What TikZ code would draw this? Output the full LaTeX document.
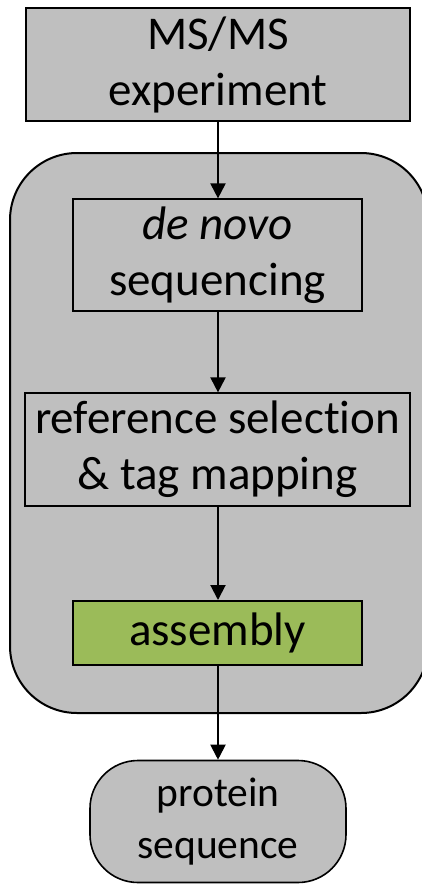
\documentclass[tikz,border=0pt]{standalone}
\usepackage{fontspec}
\setmainfont[Ligatures=NoCommon]{Carlito}
\usetikzlibrary{arrows.meta}
\definecolor{boxgray}{HTML}{BFBFBF}
\definecolor{asmgreen}{HTML}{9BBB59}
\begin{document}
\begin{tikzpicture}[x=1pt,y=-1pt,
  big/.style={font=\fontsize{47}{56}\selectfont, align=center, inner sep=0pt},
  stepbox/.style={big, draw, rectangle, line width=1.2pt},
  flow/.style={line width=2pt, -{Triangle[length=15pt,width=15pt]}}
]
\useasboundingbox (0,0) rectangle (421,884);
\node[draw, fill=boxgray, line width=2pt, rounded corners=67pt, minimum width=418pt, minimum height=560pt, inner sep=0pt] (stage) at (219,433) {};
\node[stepbox, fill=boxgray, line width=2.2pt, minimum width=384pt, minimum height=113pt] (ms) at (218,64.5) {MS/MS\\experiment};
\node[stepbox, minimum width=289pt, minimum height=112pt] (dn) at (217.5,255) {\textit{de novo}\\sequencing};
\node[stepbox, minimum width=385pt, minimum height=113pt] (ref) at (217.5,449.5) {reference selection\\\& tag mapping};
\node[stepbox, fill=asmgreen, line width=2pt, minimum width=289pt, minimum height=64pt] (asm) at (217.5,633) {assembly};
\node[draw, fill=boxgray, line width=1.6pt, rounded corners=48pt, minimum width=256pt, minimum height=122pt, inner sep=0pt, align=center, font=\fontsize{41.5}{52}\selectfont] (prot) at (218,821.5) {protein\\sequence};
\draw[flow] (ms.south -| 218,0) -- (dn.north -| 218,0);
\draw[flow] (dn.south -| 218,0) -- (ref.north -| 218,0);
\draw[flow] (ref.south -| 218,0) -- (asm.north -| 218,0);
\draw[flow] (asm.south -| 218,0) -- (prot.north -| 218,0);
\end{tikzpicture}
\end{document}
